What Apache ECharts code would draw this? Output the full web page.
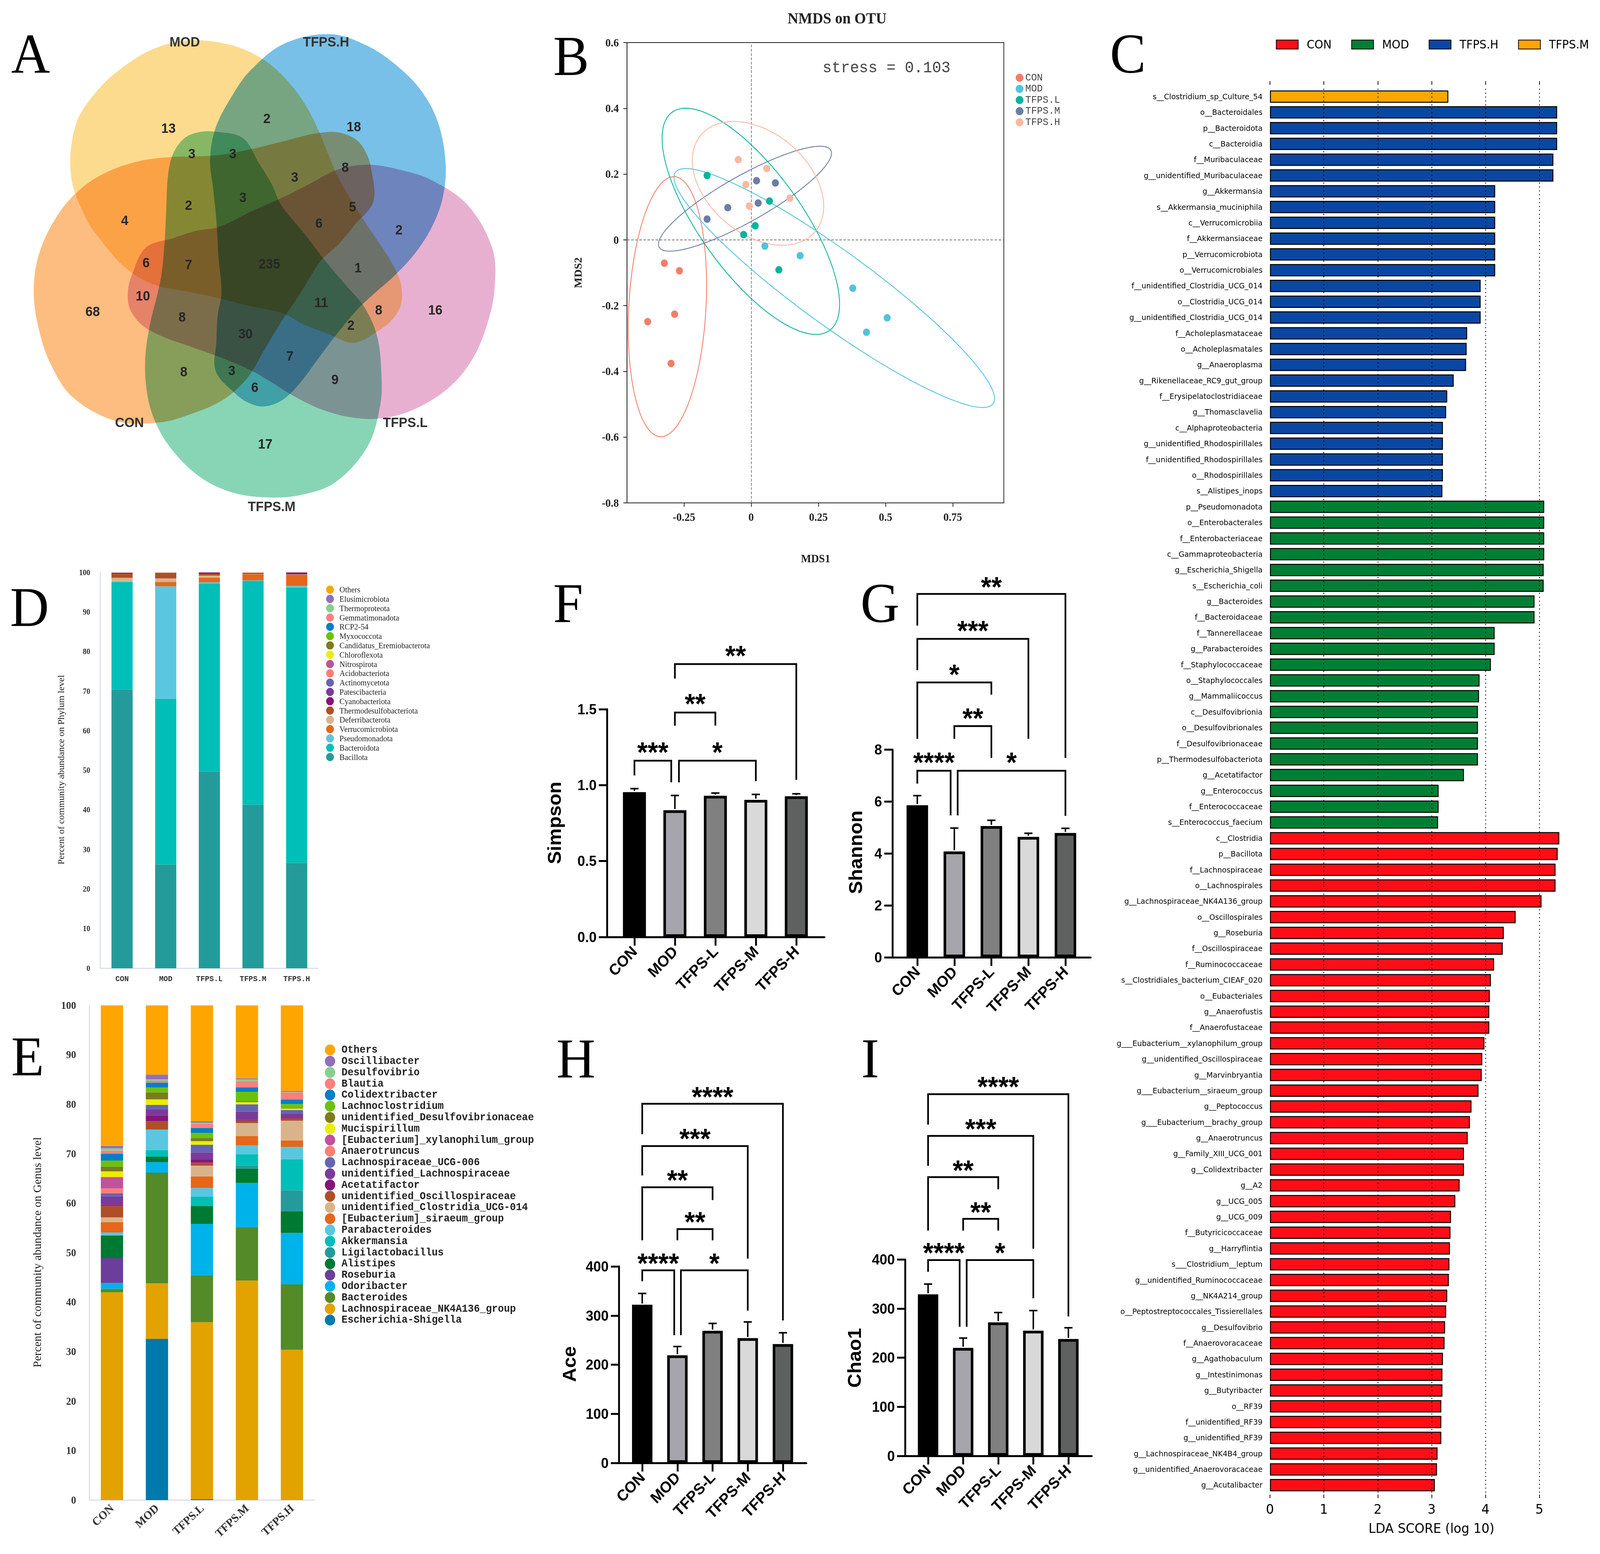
<!DOCTYPE html>
<html><head><meta charset="utf-8">
<script src="https://cdn.jsdelivr.net/npm/echarts@6/dist/echarts.min.js"></script>
<style>
html,body{margin:0;padding:0;background:#fff;overflow:hidden;}
#wrap{position:relative;width:4310px;height:3977px;background:#fff;overflow:hidden;transform-origin:0 0;}
.pane{position:absolute;}
</style></head>
<body><div id="wrap"></div>
<script>
// ================= DATA =================
// Panel A : Venn
const vennSets = ['CON','MOD','TFPS.H','TFPS.L','TFPS.M'];
const vennCounts = [13,2,18,3,3,8,3,2,3,5,4,6,2,6,7,235,1,10,68,11,8,16,8,2,30,7,8,3,9,6,17];
// Panel B : NMDS
const nmdsGroups = ['CON','MOD','TFPS.L','TFPS.M','TFPS.H'];
const nmdsX = [
  [-0.323,-0.267,-0.385,-0.285,-0.298],
  [0.051,0.182,0.378,0.506,0.429],
  [-0.164,0.068,0.015,-0.028,0.103],
  [0.020,0.090,0.026,-0.087,-0.164],
  [-0.048,0.058,-0.020,-0.007,0.144]
];
const nmdsY = [
  [-0.071,-0.094,-0.249,-0.226,-0.376],
  [-0.019,-0.048,-0.147,-0.237,-0.281],
  [0.196,0.118,0.043,0.016,-0.091],
  [0.180,0.173,0.112,0.098,0.063],
  [0.244,0.217,0.168,0.103,0.127]
];
const nmdsStress = '0.103';
const nmdsXTicks = [-0.25,0,0.25,0.5,0.75];
// Panel C : LEfSe
const ldaNames = ['s__Clostridium_sp_Culture_54','o__Bacteroidales','p__Bacteroidota','c__Bacteroidia','f__Muribaculaceae','g__unidentified_Muribaculaceae','g__Akkermansia','s__Akkermansia_muciniphila','c__Verrucomicrobiia','f__Akkermansiaceae','p__Verrucomicrobiota','o__Verrucomicrobiales','f__unidentified_Clostridia_UCG_014','o__Clostridia_UCG_014','g__unidentified_Clostridia_UCG_014','f__Acholeplasmataceae','o__Acholeplasmatales','g__Anaeroplasma','g__Rikenellaceae_RC9_gut_group','f__Erysipelatoclostridiaceae','g__Thomasclavelia','c__Alphaproteobacteria','g__unidentified_Rhodospirillales','f__unidentified_Rhodospirillales','o__Rhodospirillales','s__Alistipes_inops',
'p__Pseudomonadota','o__Enterobacterales','f__Enterobacteriaceae','c__Gammaproteobacteria','g__Escherichia_Shigella','s__Escherichia_coli','g__Bacteroides','f__Bacteroidaceae','f__Tannerellaceae','g__Parabacteroides','f__Staphylococcaceae','o__Staphylococcales','g__Mammaliicoccus','c__Desulfovibrionia','o__Desulfovibrionales','f__Desulfovibrionaceae','p__Thermodesulfobacteriota','g__Acetatifactor','g__Enterococcus','f__Enterococcaceae','s__Enterococcus_faecium',
'c__Clostridia','p__Bacillota','f__Lachnospiraceae','o__Lachnospirales','g__Lachnospiraceae_NK4A136_group','o__Oscillospirales','g__Roseburia','f__Oscillospiraceae','f__Ruminococcaceae','s__Clostridiales_bacterium_CIEAF_020','o__Eubacteriales','g__Anaerofustis','f__Anaerofustaceae','g___Eubacterium__xylanophilum_group','g__unidentified_Oscillospiraceae','g__Marvinbryantia','g___Eubacterium__siraeum_group','g__Peptococcus','g___Eubacterium__brachy_group','g__Anaerotruncus','g__Family_XIII_UCG_001','g__Colidextribacter','g__A2','g__UCG_005','g__UCG_009','f__Butyricicoccaceae','g__Harryflintia','s___Clostridium__leptum','g__unidentified_Ruminococcaceae','g__NK4A214_group','o__Peptostreptococcales_Tissierellales','g__Desulfovibrio','f__Anaerovoracaceae','g__Agathobaculum','g__Intestinimonas','g__Butyribacter','o__RF39','f__unidentified_RF39','g__unidentified_RF39','g__Lachnospiraceae_NK4B4_group','g__unidentified_Anaerovoracaceae','g__Acutalibacter'];
const ldaScores = [3.31,5.33,5.33,5.33,5.26,5.26,4.18,4.18,4.18,4.18,4.18,4.18,3.91,3.91,3.91,3.66,3.65,3.64,3.41,3.29,3.27,3.21,3.21,3.21,3.21,3.20,
5.09,5.09,5.09,5.09,5.08,5.08,4.91,4.91,4.17,4.17,4.10,3.89,3.88,3.86,3.86,3.86,3.86,3.60,3.13,3.13,3.12,
5.37,5.34,5.30,5.30,5.04,4.56,4.34,4.32,4.16,4.10,4.08,4.07,4.07,3.98,3.94,3.93,3.87,3.74,3.71,3.67,3.60,3.60,3.52,3.44,3.36,3.35,3.34,3.33,3.32,3.29,3.27,3.25,3.24,3.21,3.20,3.20,3.18,3.18,3.18,3.11,3.10,3.06];
const ldaGroupOf = ['TFPS.M'].concat(Array(25).fill('TFPS.H'), Array(21).fill('MOD'), Array(42).fill('CON'));
const ldaLegend = ['CON','MOD','TFPS.H','TFPS.M'];
const ldaTicks = [0,1,2,3,4,5];
// Panel D : phylum
const barGroups = ['CON','MOD','TFPS.L','TFPS.M','TFPS.H'];
const phyla = ['Bacillota','Bacteroidota','Pseudomonadota','Verrucomicrobiota','Deferribacterota','Thermodesulfobacteriota','Cyanobacteriota','Patescibacteria','Actinomycetota','Acidobacteriota','Nitrospirota','Chloroflexota','Candidatus_Eremiobacterota','Myxococcota','RCP2-54','Gemmatimonadota','Thermoproteota','Elusimicrobiota','Others'];
const phylumValues = [
  [70.4,26.2,49.7,41.3,26.6],
  [27.2,41.9,47.5,56.6,69.6],
  [0.1,28.4,0.3,0.1,0.4],
  [0.05,1.1,1.2,1.5,2.8],
  [0.9,0.9,0.5,0.1,0.05],
  [1.0,1.4,0.5,0.3,0.1],
  [0.25,0.02,0.3,0.02,0.5],
  [0.04,0.02,0.03,0.02,0.02],
  [0.02,0.02,0.02,0.02,0.01],
  [0.01,0.01,0.01,0.01,0.01],
  [0.01,0.01,0.01,0.01,0.01],
  [0.01,0.01,0.01,0.01,0.01],
  [0.01,0.01,0.01,0.01,0.01],
  [0.01,0.01,0.01,0.01,0.01],
  [0.01,0.01,0.01,0.01,0.01],
  [0.01,0.01,0.01,0.01,0.01],
  [0.01,0.01,0.01,0.01,0.01],
  [0.01,0.01,0.01,0.01,0.01],
  [0.02,0.02,0.02,0.02,0.02]
];
// Panel E : genus
const genera = ['Escherichia-Shigella','Lachnospiraceae_NK4A136_group','Bacteroides','Odoribacter','Roseburia','Alistipes','Ligilactobacillus','Akkermansia','Parabacteroides','[Eubacterium]_siraeum_group','unidentified_Clostridia_UCG-014','unidentified_Oscillospiraceae','Acetatifactor','unidentified_Lachnospiraceae','Lachnospiraceae_UCG-006','Anaerotruncus','[Eubacterium]_xylanophilum_group','Mucispirillum','unidentified_Desulfovibrionaceae','Lachnoclostridium','Colidextribacter','Blautia','Desulfovibrio','Oscillibacter','Others'];
const genusValues = [
  [0,32.6,0.15,0,0],
  [42.0,11.2,35.8,44.4,30.4],
  [0.7,22.4,9.5,10.8,13.2],
  [1.2,2.1,10.4,8.9,10.4],
  [5.0,0,0,0,0],
  [4.6,1.15,3.6,2.9,4.4],
  [0,0,0,0.65,4.2],
  [0,1.3,1.9,2.3,6.3],
  [0.6,4.15,1.75,1.75,2.5],
  [2.1,0,2.3,1.9,1.3],
  [0.95,0,2.2,2.6,4.0],
  [2.3,1.7,0.6,0.5,0.45],
  [0.2,1.15,0.6,0.1,0.1],
  [1.75,1.25,1.45,1.75,0.8],
  [0.65,0.9,1.6,1.45,0.8],
  [0.95,0,0,0,0],
  [2.3,0,0,0,0],
  [1.15,1.1,0.7,0.45,0.3],
  [0.95,1.4,0.6,0.2,0.1],
  [1.25,1.0,1.1,1.9,0.8],
  [1.4,1.0,0.95,0.9,0.95],
  [0.6,0.35,0.9,1.25,1.4],
  [0.45,0.3,0.2,0.35,0.15],
  [0.5,0.95,0.3,0.2,0.2],
  [28.4,14.0,23.4,14.75,17.25]
];
// Panels F-I : alpha diversity
const alphaGroups = ['CON','MOD','TFPS-L','TFPS-M','TFPS-H'];
const simpsonMean = [0.954,0.835,0.930,0.903,0.927];
const simpsonSD   = [0.023,0.097,0.018,0.036,0.016];
const shannonMean = [5.86,4.08,5.06,4.64,4.79];
const shannonSD   = [0.37,0.90,0.22,0.14,0.18];
const aceMean = [322,219,269,254,242];
const aceSD   = [23,18,15,33,23];
const chao1Mean = [329,220,272,255,238];
const chao1SD   = [21,20,20,41,23];
// brackets: [fromGroup, toGroup, barValue, leftLegEnd, rightLegEnd, starValue]
const simpsonBrackets = [[0,0.91,1.161,1.064,1.018,1.257],[1.10,3,1.161,1.018,1.026,1.257],[1,2,1.478,1.392,1.392,1.576],[1,4,1.797,1.702,1.035,1.891]];
const simpsonStars = ['***','*','**','**'];
const shannonBrackets = [[0,0.90,7.19,6.69,5.47,7.74],[1.09,4,7.19,5.47,5.45,7.74],[1,2,8.91,8.42,7.68,9.44],[0,2,10.59,8.42,10.12,11.13],[0,3,12.27,11.06,8.42,12.81],[0,4,14.0,12.78,7.68,14.5]];
const shannonStars = ['****','*','**','*','***','**'];
const aceBrackets = [[0,0.91,392,370,260,418],[1.10,3,392,260,310,418],[1,2,476,453,453,503],[0,2,561,453,535,588],[0,3,645,585,416,672],[0,4,731,669,290,757]];
const aceStars = ['****','*','**','**','***','****'];
const chao1Brackets = [[0,0.90,399,375,263,426],[1.10,3,399,263,321,426],[1,2,483,459,459,509],[0,2,568,459,543,594],[0,3,652,591,422,678],[0,4,737,675,284,764]];
const chao1Stars = ['****','*','**','**','***','****'];

// ================= LAYOUT / STYLE =================
const W = 4310, H = 3977;
const wrap = document.getElementById('wrap');
(function fit(){
  const vw = document.documentElement.clientWidth || window.innerWidth;
  const vh = document.documentElement.clientHeight || window.innerHeight;
  const sx = vw / W, sy = vh / H;
  if (sx > 0 && sy > 0 && (Math.abs(sx - 1) > 0.002 || Math.abs(sy - 1) > 0.002)) wrap.style.transform = 'scale(' + sx + ',' + sy + ')';
})();
const vennColors = ['#FDBD80','#FDDB8E','#78C0E8','#E8B0D0','#88D5B5'];
const vennCenter = [713,663];
const vennTransform = [[74,1.04],[-217.5,1.02],[-144.5,1.0],[-74,1.02],[0,1.0]];
const vennOutline = [[576.8,336.8],[654.3,353.4],[697.4,417.2],[731.8,471.1],[757.6,525.0],[817.9,595.5],[878.2,670.1],[929.8,728.1],[981.5,786.1],[1015.9,860.8],[1027.1,952.0],[1024.5,1034.9],[990.1,1142.6],[904.0,1233.8],[809.3,1267.0],[714.6,1272.8],[619.9,1258.7],[533.8,1217.3],[456.3,1142.6],[413.3,1068.0],[394.3,993.4],[391.7,910.5],[404.6,827.6],[421.9,761.3],[434.8,703.2],[443.4,620.3],[447.7,537.4],[452.0,454.5],[464.9,396.5],[495.1,355.0],[533.8,338.5]];
const vennCountPos = [[453.7,327.7],[718.9,302.8],[953.1,323.5],[516.6,392.3],[626.8,392.3],[929.8,427.2],[793.8,452.9],[508.0,525.0],[654.3,504.3],[949.6,529.1],[335.8,564.0],[859.2,570.6],[1074.5,587.2],[393.5,671.7],[508.0,676.7],[725.8,674.2],[964.3,685.0],[384.8,757.1],[249.7,796.9],[865.3,773.7],[1020.2,792.8],[1172.6,792.8],[490.7,811.0],[945.3,831.7],[661.2,854.1],[780.9,910.5],[495.1,950.3],[624.2,947.8],[902.3,970.2],[686.2,990.9],[714.6,1136.0]];
const vennSetLabelPos = [[348.7,1080.5],[497.6,106.3],[878.2,106.3],[1091.7,1080.5],[731.8,1296.0]];
const nmdsColors = ['#F47D69','#51C4DA','#07B49C','#6C7EA5','#FBB7A2'];
const ldaColors = {'CON':'#FF0D17','MOD':'#007F34','TFPS.H':'#0A47A3','TFPS.M':'#FFA500'};
const phylumColors = ['#239B9A','#00BFB8','#5BC6E0','#E6661A','#D9B48B','#AE4F27','#88137A','#7B3A99','#6565B1','#FF8070','#C2519E','#EDED00','#7B7B1F','#6CC20A','#0080C8','#FF7F7F','#85D08F','#8F6FBD','#FFA500'];
const genusColors = ['#0079AD','#E2A200','#548A27','#00B2EA','#6B3E9A','#007A33','#239B9A','#00BFB8','#5BC6E0','#E6661A','#D9B48B','#AE4F27','#88137A','#7B3A99','#6565B1','#FF8070','#C2519E','#EDED00','#7B7B1F','#6CC20A','#0080C8','#FF7F7F','#85D08F','#8F6FBD','#FFA500'];
const alphaColors = ['#000000','#A5A5AB','#808080','#D9D9D9','#5F6161'];
const axisBlue = '#C9D2E8';

function mk(opt, renderer, box, css){
  box = box || [0,0,W,H];
  const d = document.createElement('div');
  d.className = 'pane';
  d.style.left = box[0]+'px'; d.style.top = box[1]+'px';
  d.style.width = box[2]+'px'; d.style.height = box[3]+'px';
  if (css) Object.assign(d.style, css);
  wrap.appendChild(d);
  const c = echarts.init(d, null, {renderer: renderer || 'svg', width: box[2], height: box[3]});
  opt.animation = false;
  c.setOption(opt);
  return c;
}
function txt(x, y, text, size, extra){
  const el = {type:'text', x:x, y:y, silent:true, style:Object.assign({text:text, fontSize:size, fontFamily:'Liberation Sans', fill:'#000', align:'center', verticalAlign:'middle'}, (extra&&extra.style)||{})};
  if (extra && extra.rotation !== undefined) el.rotation = extra.rotation;
  return el;
}

// ================= PANEL A (Venn) =================
const vennBox = [0,0,1400,1400];
const vennGrid = {left:0,top:0,width:1400,height:1400,outerBoundsMode:'none'};
const vennXAxis = {type:'value',min:0,max:1400,show:false};
const vennYAxis = {type:'value',min:0,max:1400,inverse:true,show:false};
vennSets.forEach((name, si)=>{
  mk({
    grid:vennGrid, xAxis:vennXAxis, yAxis:vennYAxis,
    series:[{type:'custom', name:name, clip:false, silent:true, data:[[si,si]],
      renderItem:(p, api)=>{
        const tr = vennTransform[si], t = tr[0]*Math.PI/180, c = Math.cos(t), s = Math.sin(t);
        const pts = vennOutline.map(q=>{
          const dx=(q[0]-vennCenter[0])*tr[1], dy=(q[1]-vennCenter[1])*tr[1];
          return api.coord([vennCenter[0]+dx*c-dy*s, vennCenter[1]+dx*s+dy*c]);
        });
        return {type:'polygon', shape:{points:pts, smooth:0.35}, style:{fill:vennColors[si], stroke:null}};
      }}]
  }, 'svg', vennBox, {mixBlendMode:'multiply'});
});
mk({
  grid:vennGrid, xAxis:vennXAxis, yAxis:vennYAxis,
  series:[
    {type:'custom', clip:false, silent:true, data: vennCountPos.map((q,i)=>[q[0],q[1],vennCounts[i]]),
     renderItem:(p, api)=>{
       const pt = api.coord([api.value(0), api.value(1)]);
       return {type:'text', x:pt[0], y:pt[1], style:{text:String(api.value(2)), fontSize:35, fontWeight:'bold', fontFamily:'Liberation Sans', fill:'#262626', align:'center', verticalAlign:'middle'}};
     }},
    {type:'custom', clip:false, silent:true, data: vennSetLabelPos.map((q,i)=>[q[0],q[1],i]),
     renderItem:(p, api)=>{
       const pt = api.coord([api.value(0), api.value(1)]);
       return {type:'text', x:pt[0], y:pt[1], style:{text:vennSets[p.dataIndex], fontSize:35, fontWeight:'bold', fontFamily:'Liberation Sans', fill:'#333', align:'center', verticalAlign:'middle'}};
     }}
  ]
}, 'svg', vennBox);

// ================= PANEL B (NMDS) =================
function ellipse(xs, ys, r){
  const n = xs.length; let mx=0,my=0; for(let i=0;i<n;i++){mx+=xs[i];my+=ys[i];} mx/=n; my/=n;
  let sxx=0,syy=0,sxy=0; for(let i=0;i<n;i++){const dx=xs[i]-mx, dy=ys[i]-my; sxx+=dx*dx; syy+=dy*dy; sxy+=dx*dy;}
  sxx/=(n-1); syy/=(n-1); sxy/=(n-1);
  const a=Math.sqrt(sxx), b=sxy/a, c=Math.sqrt(Math.max(syy-b*b,0));
  const pts=[]; for(let k=0;k<=160;k++){const t=2*Math.PI*k/160; pts.push([mx+r*a*Math.cos(t), my+r*(b*Math.cos(t)+c*Math.sin(t))]);}
  return pts;
}
const ELLIPSE_R = 3.18;
const bSeries = [];
nmdsGroups.forEach((g,i)=>{
  bSeries.push({type:'line', name:g+'_ellipse', data:ellipse(nmdsX[i], nmdsY[i], ELLIPSE_R), showSymbol:false, silent:true, lineStyle:{color:nmdsColors[i], width:2.2}, z:2});
});
nmdsGroups.forEach((g,i)=>{
  const s = {type:'scatter', name:g, data:nmdsX[i].map((x,k)=>[x,nmdsY[i][k]]), symbolSize:19, itemStyle:{color:nmdsColors[i], opacity:1}, z:3};
  if(i===0){ s.markLine = {silent:true, symbol:['none','none'], label:{show:false}, lineStyle:{type:[7,4], color:'#7a7a7a', width:2}, data:[{xAxis:0},{yAxis:0}], z:1}; }
  bSeries.push(s);
});
mk({
  grid:{left:1689,top:109,width:1015,height:1178,show:true,borderColor:'#222',borderWidth:2,outerBoundsMode:'none'},
  xAxis:{type:'value',min:-0.462,max:0.94,splitLine:{show:false},
    axisLine:{onZero:false,lineStyle:{color:'#222',width:2}},
    axisTick:{customValues:nmdsXTicks,length:10,lineStyle:{color:'#222',width:2}},
    axisLabel:{customValues:nmdsXTicks,fontFamily:'Liberation Serif',fontWeight:'bold',fontSize:29,color:'#222',margin:22}},
  yAxis:{type:'value',min:-0.8,max:0.6,interval:0.2,splitLine:{show:false},
    axisLine:{onZero:false,lineStyle:{color:'#222',width:2}},
    axisTick:{length:10,lineStyle:{color:'#222',width:2}},
    axisLabel:{fontFamily:'Liberation Serif',fontWeight:'bold',fontSize:29,color:'#222',margin:22}},
  legend:{data:nmdsGroups,orient:'vertical',left:2731,top:181,icon:'circle',itemWidth:21,itemHeight:21,itemGap:2.5,
    textStyle:{fontFamily:'Liberation Mono',fontSize:26,color:'#444'}},
  graphic:[
    txt(2255,46,'NMDS on OTU',40,{style:{fontFamily:'Liberation Serif',fontWeight:'bold',fill:'#222'}}),
    txt(2388,174,'stress = '+nmdsStress,41,{style:{fontFamily:'Liberation Mono',fill:'#444'}}),
    txt(2197,1429,'MDS1',29,{style:{fontFamily:'Liberation Serif',fontWeight:'bold',fill:'#222'}}),
    txt(1557,698,'MDS2',29,{style:{fontFamily:'Liberation Serif',fontWeight:'bold',fill:'#222'},rotation:Math.PI/2})
  ],
  series:bSeries
});

// ================= PANEL C (LEfSe) =================
const cSeries = ldaLegend.map((g,gi)=>({
  type:'bar', name:g, stack:'lda', barWidth:'78%',
  data: ldaScores.map((v,i)=> ldaGroupOf[i]===g ? v : '-'),
  itemStyle:{color:ldaColors[g], borderColor:'#000', borderWidth:2.5}
}));
cSeries[0].markLine = {silent:true, symbol:['none','none'], label:{show:false}, lineStyle:{type:[3,7], color:'#000', width:2}, data: ldaTicks.slice(1).map(v=>({xAxis:v})), z:10};
mk({
  grid:{left:3421,top:227,width:820,height:3594,outerBoundsMode:'none'},
  xAxis:[
    {type:'value',position:'bottom',min:0,max:5.65,offset:4,splitLine:{show:false},axisLine:{show:false},
     axisTick:{show:true,customValues:ldaTicks,length:9,lineStyle:{color:'#000',width:2}},
     axisLabel:{customValues:ldaTicks,fontFamily:'DejaVu Sans',fontSize:34,color:'#000',margin:20}},
    {type:'value',position:'top',min:0,max:5.65,offset:10,splitLine:{show:false},axisLine:{show:false},
     axisTick:{show:true,customValues:ldaTicks,length:9,lineStyle:{color:'#000',width:2}},
     axisLabel:{show:false}}
  ],
  yAxis:{type:'category',data:ldaNames,inverse:true,axisLine:{show:false},axisTick:{show:false},
    axisLabel:{interval:0,fontFamily:'DejaVu Sans',fontSize:20,color:'#000',margin:20}},
  legend:{data:ldaLegend,left:3432,top:94,icon:'rect',itemWidth:59,itemHeight:23,itemGap:53,
    textStyle:{fontFamily:'DejaVu Sans',fontSize:30,color:'#000',padding:[0,0,0,18]}},
  graphic:[txt(3856,3911,'LDA SCORE (log 10)',34,{style:{fontFamily:'DejaVu Sans'}})],
  series:cSeries
});

// ================= PANEL D (phylum) =================
mk({
  grid:{left:270,top:1465,width:588,height:1013,outerBoundsMode:'none'},
  xAxis:{type:'category',data:barGroups,axisLine:{lineStyle:{color:axisBlue,width:2}},axisTick:{show:false},
    axisLabel:{interval:0,fontFamily:'Liberation Mono',fontWeight:'bold',fontSize:20,color:'#333',margin:18}},
  yAxis:{type:'value',min:0,max:100,interval:10,splitLine:{show:false},
    axisLine:{show:true,lineStyle:{color:axisBlue,width:2}},axisTick:{show:false},
    axisLabel:{fontFamily:'Liberation Serif',fontWeight:'bold',fontSize:20,color:'#333',margin:27}},
  legend:{data:phyla.slice().reverse(),orient:'vertical',left:873.5,top:1493.5,icon:'circle',itemWidth:21,itemHeight:21,itemGap:2.8,
    textStyle:{fontFamily:'Liberation Serif',fontSize:21,color:'#222',lineHeight:21,padding:[0,0,0,10]}},
  graphic:[txt(164,1970,'Percent of community abundance on Phylum level',24,{style:{fontFamily:'Liberation Serif',fill:'#222'},rotation:Math.PI/2})],
  series: phyla.map((p,i)=>({type:'bar',name:p,stack:'phy',barWidth:57,data:phylumValues[i],itemStyle:{color:phylumColors[i]}}))
});

// ================= PANEL E (genus) =================
mk({
  grid:{left:241,top:2573,width:606,height:1266,outerBoundsMode:'none'},
  xAxis:{type:'category',data:barGroups,axisLine:{lineStyle:{color:axisBlue,width:2}},axisTick:{show:false},
    axisLabel:{interval:0,rotate:42,fontFamily:'Liberation Serif',fontWeight:'bold',fontSize:30,color:'#333',margin:16}},
  yAxis:{type:'value',min:0,max:100,interval:10,splitLine:{show:false},
    axisLine:{show:true,lineStyle:{color:axisBlue,width:2}},axisTick:{show:false},
    axisLabel:{fontFamily:'Liberation Serif',fontWeight:'bold',fontSize:27,color:'#333',margin:36}},
  legend:{data:genera.slice().reverse(),orient:'vertical',left:870,top:2668,icon:'circle',itemWidth:28,itemHeight:28,itemGap:0.8,
    textStyle:{fontFamily:'Liberation Mono',fontWeight:'bold',fontSize:27,color:'#222',lineHeight:28,padding:[0,0,0,12]}},
  graphic:[txt(100,3205,'Percent of community abundance on Genus level',30,{style:{fontFamily:'Liberation Serif',fill:'#222'},rotation:Math.PI/2})],
  series: genera.map((g,i)=>({type:'bar',name:g,stack:'gen',barWidth:60,data:genusValues[i],itemStyle:{color:genusColors[i]}}))
});

// ================= PANELS F-I (alpha diversity) =================
const alphaPanels = [
  {mean:simpsonMean, sd:simpsonSD, br:simpsonBrackets, st:simpsonStars, title:'Simpson', tx:1494, ty:2106, axisX:1635, cat0:1709, step:109, y0:2398, yTop:1815, xEnd:2221, ymax:1.5, yint:0.5, barW:62, dec:1},
  {mean:shannonMean, sd:shannonSD, br:shannonBrackets, st:shannonStars, title:'Shannon', tx:2305, ty:2181, axisX:2404, cat0:2471, step:99.75, y0:2450, yTop:1918.6, xEnd:2938, ymax:8, yint:2, barW:58, dec:0},
  {mean:aceMean, sd:aceSD, br:aceBrackets, st:aceStars, title:'Ace', tx:1534, ty:3491, axisX:1667.5, cat0:1730, step:94.75, y0:3744, yTop:3241, xEnd:2172, ymax:400, yint:100, barW:55, dec:0},
  {mean:chao1Mean, sd:chao1SD, br:chao1Brackets, st:chao1Stars, title:'Chao1', tx:2302, ty:3475, axisX:2438.5, cat0:2500, step:94.5, y0:3725.8, yTop:3223.4, xEnd:2941, ymax:400, yint:100, barW:55, dec:0}
];
const catIdx = [0,1,2,3,4];
const fGrids=[], fX=[], fY=[], fS=[], fG=[];
alphaPanels.forEach((P,k)=>{
  fGrids.push({left:P.axisX, top:P.yTop, width:P.xEnd-P.axisX, height:P.y0-P.yTop, outerBoundsMode:'none'});
  fX.push({type:'value', gridIndex:k, min:(P.axisX-P.cat0)/P.step, max:(P.xEnd-P.cat0)/P.step, splitLine:{show:false},
    axisLine:{onZero:false,lineStyle:{color:'#000',width:5}},
    axisTick:{customValues:catIdx,length:22,lineStyle:{color:'#000',width:5}},
    axisLabel:{customValues:catIdx,formatter:v=>alphaGroups[Math.round(v)],rotate:45,fontFamily:'Liberation Sans',fontWeight:'bold',fontSize:40,color:'#000',margin:30}});
  fY.push({type:'value', gridIndex:k, min:0, max:P.ymax, interval:P.yint, splitLine:{show:false},
    axisLine:{onZero:false,lineStyle:{color:'#000',width:5}},
    axisTick:{length:22,lineStyle:{color:'#000',width:5}},
    axisLabel:{formatter:v=>v.toFixed(P.dec),fontFamily:'Liberation Sans',fontWeight:'bold',fontSize:37,color:'#000',margin:28}});
  fS.push({type:'bar', xAxisIndex:k, yAxisIndex:k, barWidth:P.barW, z:2,
    data:P.mean.map((m,i)=>({value:[i,m], itemStyle:{color:alphaColors[i]}})),
    itemStyle:{borderColor:'#000', borderWidth:7}});
  fS.push({type:'custom', xAxisIndex:k, yAxisIndex:k, clip:false, silent:true, z:3,
    data:P.mean.map((m,i)=>[i,m,P.sd[i]]),
    renderItem:(p,api)=>{
      const i=api.value(0), m=api.value(1), e=api.value(2);
      const a=api.coord([i,m]), b=api.coord([i,m+e]);
      return {type:'group', children:[
        {type:'line', shape:{x1:a[0],y1:a[1]-3,x2:b[0],y2:b[1]}, style:{stroke:'#000',lineWidth:4}},
        {type:'line', shape:{x1:b[0]-11,y1:b[1],x2:b[0]+11,y2:b[1]}, style:{stroke:'#000',lineWidth:4}}
      ]};
    }});
  fS.push({type:'custom', xAxisIndex:k, yAxisIndex:k, clip:false, silent:true, z:4,
    data:P.br.map(b=>b.slice()),
    renderItem:(p,api)=>{
      const b = P.br[p.dataIndex];
      const pL=api.coord([b[0],b[3]]), t1=api.coord([b[0],b[2]]), t2=api.coord([b[1],b[2]]), pR=api.coord([b[1],b[4]]);
      const ps=api.coord([(b[0]+b[1])/2,b[5]]);
      return {type:'group', children:[
        {type:'polyline', shape:{points:[pL,t1,t2,pR]}, style:{stroke:'#000',lineWidth:4.5,fill:null}},
        {type:'text', x:ps[0], y:ps[1]+15, style:{text:P.st[p.dataIndex], fontSize:72, fontWeight:'bold', fontFamily:'Liberation Sans', fill:'#000', align:'center', verticalAlign:'middle'}}
      ]};
    }});
  fG.push(txt(P.tx, P.ty, P.title, 50, {style:{fontWeight:'bold'}, rotation:Math.PI/2}));
});
mk({grid:fGrids, xAxis:fX, yAxis:fY, series:fS, graphic:fG});

// ================= PANEL LETTERS =================
const letters = [['A',30,137],['B',1490,143],['C',2990,137],['D',27,1553],['E',30,2703],['F',1490,1543],['G',2318,1543],['H',1499,2708],['I',2320,2708]];
mk({graphic: letters.map(l=>txt(l[1], l[2], l[0], 145, {style:{fontFamily:'Liberation Serif', align:'left'}}))});
</script>
</body></html>
